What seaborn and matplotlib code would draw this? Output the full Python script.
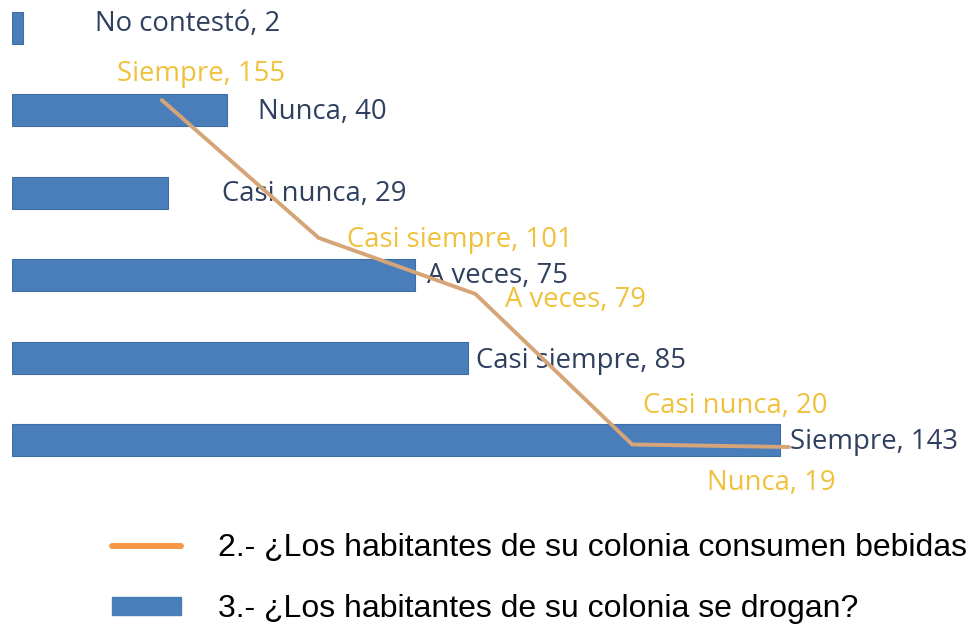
import seaborn as sns
import matplotlib.pyplot as plt
import pandas as pd
import numpy as np
from matplotlib.lines import Line2D
from matplotlib.patches import Patch

# Series 3 (bars): "¿Los habitantes de su colonia se drogan?"
bar_categories = ['No contestó', 'Nunca', 'Casi nunca', 'A veces', 'Casi siempre', 'Siempre']
bar_values = [2, 40, 29, 75, 85, 143]

# Series 2 (line): "¿Los habitantes de su colonia consumen bebidas ...?"
line_categories = ['Siempre', 'Casi siempre', 'A veces', 'Casi nunca', 'Nunca']
line_values = [155, 101, 79, 20, 19]

legend_labels = ['2.- ¿Los habitantes de su colonia consumen bebidas',
                 '3.- ¿Los habitantes de su colonia se drogan?']

bar_df = pd.DataFrame({'Respuesta': bar_categories, 'Total': bar_values})
line_df = pd.DataFrame({'pos': np.arange(len(line_categories)),
                        'Respuesta': line_categories, 'Total': line_values})

BLUE = '#4a7ebb'
LINE = '#d6a577'
BLUE_TXT = '#2f3f5e'
GOLD_TXT = '#efc13c'
LABEL_FONT = ['Open Sans', 'DejaVu Sans']

sns.set_style("white")

W, H = 968, 632
fig = plt.figure(figsize=(W / 100, H / 100), dpi=100)

# bar axes (pixel layout: x from 12px, top 500px of the figure)
ax = fig.add_axes([12 / W, (H - 500) / H, 956 / W, 500 / H])
sns.barplot(data=bar_df, x='Total', y='Respuesta', orient='h', color=BLUE,
            width=0.39, edgecolor='#3e6ea6', linewidth=0.8, saturation=1, ax=ax)
ax.set_xlim(0, 956 / 5.37)
ax.set_ylim(5.728, -0.34)
ax.axis('off')

# line axes overlaid on the whole width
ax2 = fig.add_axes([0, (H - 500) / H, 1, 500 / H])
ax2.patch.set_alpha(0)
sns.lineplot(data=line_df, x='pos', y='Total', color=LINE, linewidth=2.8, ax=ax2)
ax2.set_xlim(-161.8 / 156.8, (W - 161.8) / 156.8)
ax2.set_ylim(-4.5 / 2.551, 495.5 / 2.551)
ax2.axis('off')

# bar data labels (offsets in pixels, placed as in the original)
bar_offsets = [(72, 4), (31, -2), (54, -1), (12, -1), (8, -3), (10, -2)]
for i, (cat, val) in enumerate(zip(bar_categories, bar_values)):
    ax.annotate(f'{cat}, {val}', xy=(val, i), xytext=bar_offsets[i],
                textcoords='offset pixels', ha='left', va='center',
                fontsize=19.8, color=BLUE_TXT, family=LABEL_FONT)

# line data labels
line_offsets = [(-45, 26), (28, -2), (30, -6), (11, 38), (-82, -36)]
for i, (cat, val) in enumerate(zip(line_categories, line_values)):
    ax2.annotate(f'{cat}, {val}', xy=(i, val), xytext=line_offsets[i],
                 textcoords='offset pixels', ha='left', va='center',
                 fontsize=19.8, color=GOLD_TXT, family=LABEL_FONT)

# legend
handles = [Line2D([0], [0], color='#f79646', linewidth=4.3),
           Patch(facecolor=BLUE, edgecolor=BLUE)]
fig.legend(handles, legend_labels, loc='upper left',
           bbox_to_anchor=(112 / W, (H - 533) / H), frameon=False,
           prop={'family': 'Liberation Sans', 'size': 23}, labelcolor='black',
           handlelength=2.15, handleheight=0.53, handletextpad=1.18,
           labelspacing=0.98, borderaxespad=0, borderpad=0)

fig.savefig('out.png', dpi=100)
plt.close(fig)
